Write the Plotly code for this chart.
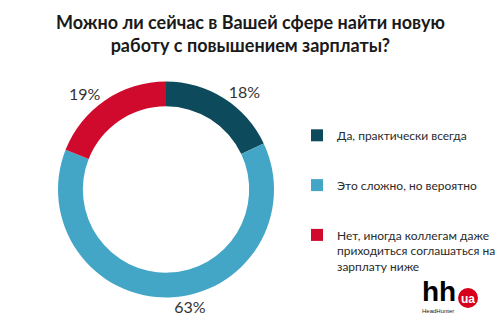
import plotly.graph_objects as go

categories = [
    "Да, практически всегда",
    "Это сложно, но вероятно",
    "Нет, иногда коллегам даже<br>приходиться соглашаться на<br>зарплату ниже",
]
values = [18, 63, 19]
colors = ["#0d4a5c", "#44a6c6", "#cf0a2c"]

# legend labels padded with blank lines to reproduce the spacing between entries
legend_labels = [
    categories[0] + "<br> <br> ",
    categories[1] + "<br> <br> ",
    categories[2],
]

W, H = 500, 327
cx, cy, r = 166, 189.5, 108

FONT = "Lato, 'Open Sans', sans-serif"

fig = go.Figure(go.Pie(
    labels=legend_labels,
    values=values,
    marker=dict(colors=colors, line=dict(width=0)),
    hole=0.77,
    sort=False,
    direction="clockwise",
    rotation=0,
    texttemplate="%{value}%",
    textposition="outside",
    outsidetextfont=dict(family=FONT, size=16, color="#333333"),
    domain=dict(x=[(cx - r) / W, (cx + r) / W], y=[(H - cy - r) / H, (H - cy + r) / H]),
    showlegend=True,
))

fig.update_layout(
    width=W, height=H,
    margin=dict(l=0, r=0, t=0, b=0, autoexpand=False),
    paper_bgcolor="white",
    plot_bgcolor="white",
    legend=dict(
        x=297 / W, xanchor="left", y=1 - 121 / H, yanchor="top",
        valign="top",
        font=dict(family=FONT, size=12, color="#2a2a2a"),
        itemclick=False,
        bgcolor="rgba(0,0,0,0)",
    ),
)

# title
fig.add_annotation(x=0.5, y=1 - 34 / H, xref="paper", yref="paper",
                   xanchor="center", yanchor="middle",
                   text="<b>Можно ли сейчас в Вашей сфере найти новую<br>работу с повышением зарплаты?</b>",
                   showarrow=False, align="center",
                   font=dict(family=FONT, size=18, color="#1a1a1a"))

# HeadHunter logo
fig.add_shape(type="circle", xref="paper", yref="paper", layer="above",
              x0=458 / W, x1=478 / W, y0=1 - 308 / H, y1=1 - 288 / H,
              fillcolor="#d6001c", line=dict(width=0))
fig.add_annotation(x=438.5 / W, y=1 - 291 / H, xref="paper", yref="paper",
                   xanchor="center", yanchor="middle", text="<b>hh</b>",
                   showarrow=False, font=dict(family="Liberation Sans, Arial", size=28, color="#000000"))
fig.add_annotation(x=437.5 / W, y=1 - 311 / H, xref="paper", yref="paper",
                   xanchor="center", yanchor="middle", text="HeadHunter",
                   showarrow=False, font=dict(family="Liberation Sans, Arial", size=6, color="#222222"))
fig.add_annotation(x=468 / W, y=1 - 298.5 / H, xref="paper", yref="paper",
                   xanchor="center", yanchor="middle", text="<b>ua</b>",
                   showarrow=False, font=dict(family="Liberation Sans, Arial", size=12, color="white"))

fig.write_html("out.html")
